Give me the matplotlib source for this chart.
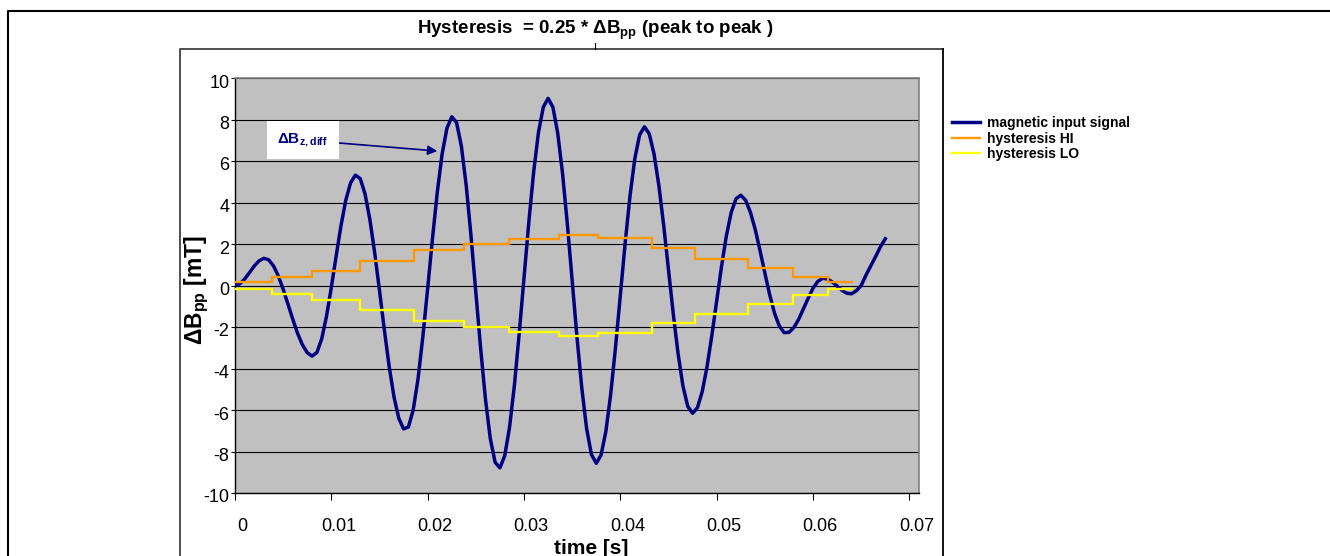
import matplotlib.pyplot as plt
import matplotlib.transforms as mtransforms
import numpy as np
from matplotlib.lines import Line2D

plt.rcParams['font.family'] = ['Liberation Sans', 'DejaVu Sans']
plt.rcParams['mathtext.default'] = 'regular'
plt.rcParams['axes.unicode_minus'] = False

sample_step = 0.0005
signal = [
    0.00, 0.08, 0.31, 0.62, 0.94, 1.19, 1.31, 1.24, 0.94, 0.46,
    -0.18, -0.90, -1.63, -2.31, -2.86, -3.24, -3.40, -3.23, -2.57, -1.48,
    -0.09, 1.42, 2.88, 4.11, 4.95, 5.32, 5.15, 4.41, 3.18, 1.58,
    -0.25, -2.13, -3.89, -5.36, -6.40, -6.91, -6.82, -5.99, -4.50, -2.46,
    -0.14, 2.27, 4.50, 6.34, 7.58, 8.13, 7.85, 6.71, 4.82, 2.38,
    -0.34, -3.05, -5.49, -7.38, -8.52, -8.79, -8.20, -6.83, -4.82, -2.32,
    0.39, 3.06, 5.47, 7.38, 8.59, 9.02, 8.59, 7.34, 5.40, 2.95,
    0.23, -2.50, -4.95, -6.90, -8.15, -8.57, -8.17, -7.02, -5.23, -2.97,
    -0.46, 2.05, 4.31, 6.11, 7.26, 7.65, 7.31, 6.33, 4.81, 2.89,
    0.75, -1.40, -3.31, -4.85, -5.83, -6.16, -5.89, -5.11, -3.91, -2.40,
    -0.73, 0.91, 2.38, 3.51, 4.18, 4.35, 4.11, 3.53, 2.70, 1.68,
    0.60, -0.44, -1.33, -1.95, -2.27, -2.26, -2.03, -1.64, -1.13, -0.61,
    -0.13, 0.20, 0.35, 0.31, 0.17, -0.03, -0.23, -0.37, -0.40, -0.25,
    0.00, 0.50, 0.95, 1.40, 1.87, 2.25,
]
time = np.arange(len(signal)) * sample_step

# hysteresis thresholds (step functions)
step_edges = [0, 0.0038, 0.0080, 0.0130, 0.0186, 0.0238, 0.0284, 0.0336,
              0.0377, 0.0433, 0.0477, 0.0532, 0.0579, 0.0616, 0.0641]
hyst_hi = [0.15, 0.40, 0.70, 1.17, 1.71, 2.00, 2.23, 2.45, 2.27, 1.79,
           1.29, 0.86, 0.43, 0.17]
hyst_lo = [-0.17, -0.41, -0.70, -1.18, -1.72, -2.00, -2.26, -2.42, -2.30,
           -1.82, -1.37, -0.91, -0.46, -0.15]

x_ticks = [0, 0.01, 0.02, 0.03, 0.04, 0.05, 0.06, 0.07]
x_ticklabels = ['0', '0.01', '0.02', '0.03', '0.04', '0.05', '0.06', '0.07']
y_ticks = list(range(-10, 11, 2))

W, H = 1330, 556
fig = plt.figure(figsize=(W / 100, H / 100), dpi=100)
ax = fig.add_axes([235 / W, 1 - 493 / H, 684 / W, 415 / H])
ax.set_facecolor('#C0C0C0')

ax.plot(time, signal, color='#000080', lw=2.5, zorder=3, label='magnetic input signal')
ax.stairs(hyst_hi, step_edges, baseline=None, color='#FF9900', lw=1.7, zorder=4,
          label='hysteresis HI')
ax.stairs(hyst_lo, step_edges, baseline=None, color='#FFFF00', lw=1.7, zorder=4,
          label='hysteresis LO')

ax.set_xlim(0, 0.071)
ax.set_ylim(-10, 10)
ax.set_xticks(x_ticks)
ax.set_xticklabels(x_ticklabels)
ax.set_yticks(y_ticks)
ax.yaxis.grid(True, color='black', lw=0.8)
ax.set_axisbelow(True)
ax.tick_params(axis='both', labelsize=13, direction='out', color='black')
ax.tick_params(axis='x', length=5, pad=13)
ax.tick_params(axis='y', length=3, pad=1)
for side in ['top', 'right']:
    ax.spines[side].set_color('#808080')
    ax.spines[side].set_linewidth(1.2)
for side in ['left', 'bottom']:
    ax.spines[side].set_color('black')
    ax.spines[side].set_linewidth(1.0)

# Excel-like label offsets
shift_x = mtransforms.ScaledTranslation(0.07, 0, fig.dpi_scale_trans)
for lab in ax.get_xticklabels():
    lab.set_transform(lab.get_transform() + shift_x)
shift_y = mtransforms.ScaledTranslation(0, -0.03, fig.dpi_scale_trans)
for lab in ax.get_yticklabels():
    lab.set_transform(lab.get_transform() + shift_y)

ax.set_xlabel('time [s]', fontsize=15, fontweight='bold', va='center')
ax.xaxis.set_label_coords((591 - 235) / 684, (493 - 548) / 415)
ax.set_ylabel('ΔB$_{pp}$ [mT]', fontsize=16.5, fontweight='bold', va='center')
ax.yaxis.set_label_coords((197 - 235) / 684, 0.49)

fig.text(595 / W, 1 - 30 / H, 'Hysteresis  = 0.25 * ΔB$_{pp}$ (peak to peak )',
         ha='center', va='center', fontsize=13.5, fontweight='bold')

ax.annotate('ΔB$_{z,diff}$', xy=(0.0210, 6.48), xytext=(0.00706, 7.01),
            ha='center', va='center', fontsize=11, fontweight='bold', color='#000080',
            bbox=dict(boxstyle='square,pad=0.7', fc='white', ec='none'),
            arrowprops=dict(arrowstyle='-|>', color='#000080', lw=1.2,
                            mutation_scale=14, shrinkA=0, shrinkB=0),
            zorder=6)

fig.legend(loc='upper left', bbox_to_anchor=(952 / W, 1 - 116 / H), frameon=False,
           prop={'size': 10, 'weight': 'bold'}, handlelength=2.0,
           handletextpad=0.5, labelspacing=0.12, borderpad=0, borderaxespad=0)

# chart frames
fig.add_artist(Line2D([8 / W, 8 / W, 1], [0, 1 - 11 / H, 1 - 11 / H],
                      transform=fig.transFigure, color='black', lw=1.5))
fig.add_artist(Line2D([180 / W, 180 / W, 943 / W], [0, 1 - 49 / H, 1 - 49 / H],
                      transform=fig.transFigure, color='#404040', lw=1.3))
fig.add_artist(Line2D([943 / W, 943 / W], [1 - 49 / H, 0],
                      transform=fig.transFigure, color='black', lw=1.3))
fig.add_artist(Line2D([595 / W, 595 / W], [1 - 43 / H, 1 - 49 / H],
                      transform=fig.transFigure, color='black', lw=0.8))

fig.savefig('out.png', dpi=100)
